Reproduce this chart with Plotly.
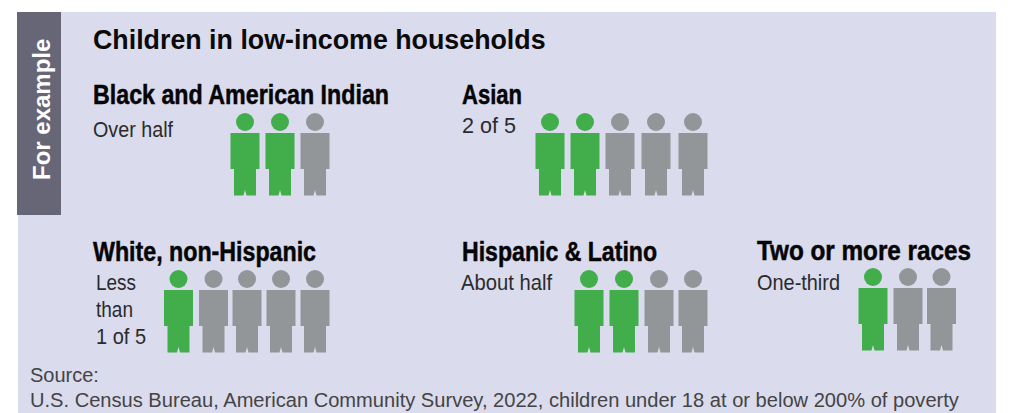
import json
import plotly.graph_objects as go

# ---- data ----
title = "Children in low-income households"
side_label = "For example"
groups = ["Black and American Indian", "Asian", "White, non-Hispanic", "Hispanic & Latino", "Two or more races"]
shares = [["Over half"], ["2 of 5"], ["Less", "than", "1 of 5"], ["About half"], ["One-third"]]
highlighted = [2, 2, 1, 2, 1]
total = [3, 5, 5, 4, 3]
source_lines = ["Source:", "U.S. Census Bureau, American Community Survey, 2022, children under 18 at or below 200% of poverty"]

# ---- layout (page pixels) ----
W, H = 1015, 413
PANEL = "#dadbed"
BAND = "#666677"
GREEN = "#41ae4b"
GREY = "#939698"
group_head_x = [[245, 280, 315], [550, 585, 620, 656, 693], [178.5, 213.5, 247, 281, 315], [589, 624, 659, 693], [873, 908, 941.5]]
group_head_y = [122, 122, 279, 279, 277]
heading_xy = [(91, 94), (460, 94), (91, 251), (460, 251), (755, 250)]
share_xy = [(91, 129), (460, 125), (94, 282), (459, 282), (755, 282)]
LINE_STEP = 27
# rendered widths of the condensed type, px
heading_w = [296, 60, 223, 195, 214]
share_w = [[80], [54], [40, 37, 50], [91], [83]]

# person silhouette, relative to the head centre
body_x = [-14.5, 14.5, 14.5, 11, 11, 1.5, 0, -1.5, -11, -11, -14.5, -14.5]
body_y = [11, 11, 47, 47, 73.5, 73.5, 68, 73.5, 73.5, 47, 47, 11]
HEAD_SIZE = 18

fig = go.Figure()
for hx, hy, n_on, n in zip(group_head_x, group_head_y, highlighted, total):
    for i in range(n):
        c = GREEN if i < n_on else GREY
        fig.add_trace(go.Scatter(x=[hx[i] + v for v in body_x], y=[hy + v for v in body_y],
                                 mode="lines", fill="toself", fillcolor=c, line=dict(color=c, width=0),
                                 hoverinfo="skip", showlegend=False))
        fig.add_trace(go.Scatter(x=[hx[i]], y=[hy], mode="markers",
                                 marker=dict(color=c, size=HEAD_SIZE, line=dict(width=0)),
                                 hoverinfo="skip", showlegend=False))

shapes = [
    dict(type="rect", xref="x", yref="y", x0=18, x1=996, y0=12, y1=413, fillcolor=PANEL, line=dict(width=0), layer="below"),
    dict(type="rect", xref="x", yref="y", x0=17, x1=61, y0=12, y1=215, fillcolor=BAND, line=dict(width=0), layer="below"),
]

SANS = "Liberation Sans, Arial, sans-serif"

def txt(x, y, s, size, color, weight=400, anchor="left", angle=0):
    return dict(x=x, y=y, xref="x", yref="y", text=s, showarrow=False, xanchor=anchor, yanchor="middle",
                align="left", textangle=angle, font=dict(size=size, color=color, family=SANS, weight=weight))

ann = [
    txt(41, 110, side_label, 24, "#ffffff", 700, anchor="center", angle=-90),
    txt(91, 40, title, 26.8, "#0a0a0a", 700),
    txt(28, 375, source_lines[0], 20, "#444444"),
    txt(28, 400, source_lines[1], 20.1, "#444444"),
]
widths = {}
for g, lines, (gx, gy), (sx, sy), gw, lw in zip(groups, shares, heading_xy, share_xy, heading_w, share_w):
    ann.append(txt(gx, gy, g, 28, "#050505", 700))
    widths[g] = gw
    for k, (line, w) in enumerate(zip(lines, lw)):
        ann.append(txt(sx, sy + k * LINE_STEP, line, 22.5, "#2b2b2b"))
        widths[line] = w

fig.update_layout(width=W, height=H, margin=dict(l=0, r=0, t=0, b=0), paper_bgcolor="white", plot_bgcolor="white",
                  shapes=shapes, annotations=ann, showlegend=False,
                  xaxis=dict(range=[0, W], visible=False, fixedrange=True),
                  yaxis=dict(range=[H, 0], visible=False, fixedrange=True))

# squeeze the headings to condensed proportions, keeping the left edge
post = """
document.body.style.margin='0';
var widths = %s;
var headings = %s;
document.querySelectorAll('.annotation-text').forEach(function (t) {
  var w = widths[t.textContent];
  if (!w) return;
  var left = t.getBoundingClientRect().left;
  t.setAttribute('lengthAdjust', 'spacingAndGlyphs');
  t.setAttribute('textLength', w);
  var dx = left - t.getBoundingClientRect().left;
  t.setAttribute('x', parseFloat(t.getAttribute('x') || 0) + dx);
  if (headings.indexOf(t.textContent) >= 0) {
    t.style.stroke = '#050505';
    t.style.strokeWidth = '0.5px';
  }
});
""" % (json.dumps(widths), json.dumps(groups))
fig.write_html("out.html", config=dict(displayModeBar=False), post_script=post)
